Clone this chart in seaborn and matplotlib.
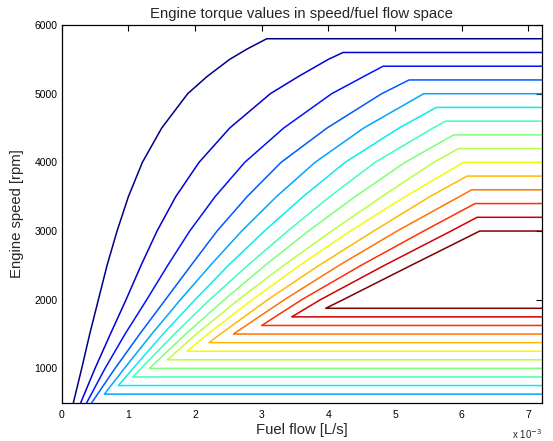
import numpy as np
import pandas as pd
import matplotlib
matplotlib.use("Agg")
import matplotlib.pyplot as plt
import seaborn as sns

# contour lines of engine torque, fuel flow in units of 1e-3 L/s, speed in rpm
FUEL_MAX = 7.2
n_levels = 15
nan = np.nan

# where each contour turns flat at the top (max speed for that torque)
plateau_speed = [5800, 5600, 5400, 5200, 5000, 4800, 4600, 4400, 4200, 4000, 3800, 3600, 3400, 3200, 3000]
plateau_fuel = [3.075, 4.22, 4.82, 5.21, 5.43, 5.62, 5.76, 5.88, 5.95, 6.03, 6.08, 6.15, 6.20, 6.23, 6.27]

# lower corner (first 4 contours only enter the plot at the bottom edge)
low_speed = [500, 500, 500, 500, 625, 750, 875, 1000, 1125, 1250, 1375, 1500, 1625, 1750, 1875]
low_fuel = [0.175, 0.285, 0.375, 0.45, 0.64, 0.85, 1.065, 1.315, 1.585, 1.88, 2.21, 2.575, 3.0, 3.45, 3.96]
has_low_line = [False] * 4 + [True] * 11

# fuel flow of each rising curve at fixed speeds (nan = not on the rising part)
curve_speeds = [1000, 1500, 2000, 2500, 3000, 3500, 4000, 4500, 5000, 5250, 5500, 5650]
fuel_1000 = [0.30, 0.50, 0.65, 0.80, 0.94, 1.07, 1.19, nan, nan, nan, nan, nan, nan, nan, nan]
fuel_1500 = [0.42, 0.73, 0.95, 1.17, 1.35, 1.52, 1.69, 1.86, 2.02, 2.19, 2.38, nan, nan, nan, nan]
fuel_2000 = [0.55, 0.965, 1.275, 1.555, 1.78, 2.00, 2.22, 2.44, 2.65, 2.86, 3.09, 3.34, 3.60, 3.88, 4.22]
fuel_2500 = [0.68, 1.19, 1.59, 1.94, 2.23, 2.50, 2.79, 3.05, 3.33, 3.57, 3.86, 4.16, 4.49, 4.84, 5.24]
fuel_3000 = [0.83, 1.43, 1.92, 2.33, 2.70, 3.04, 3.39, 3.70, 4.05, 4.33, 4.68, 5.03, 5.43, 5.84, nan]
fuel_3500 = [1.00, 1.71, 2.30, 2.78, 3.22, 3.62, 4.02, 4.40, 4.80, 5.15, 5.52, nan, nan, nan, nan]
fuel_4000 = [1.21, 2.06, 2.745, 3.29, 3.80, 4.25, 4.70, 5.15, 5.58, nan, nan, nan, nan, nan, nan]
fuel_4500 = [1.50, 2.52, 3.33, 3.98, 4.53, 5.06, 5.57, nan, nan, nan, nan, nan, nan, nan, nan]
fuel_5000 = [1.89, 3.13, 4.05, 4.80, nan, nan, nan, nan, nan, nan, nan, nan, nan, nan, nan]
fuel_5250 = [2.18, 3.55, 4.53, nan, nan, nan, nan, nan, nan, nan, nan, nan, nan, nan, nan]
fuel_5500 = [2.52, 4.00, nan, nan, nan, nan, nan, nan, nan, nan, nan, nan, nan, nan, nan]
fuel_5650 = [2.78, nan, nan, nan, nan, nan, nan, nan, nan, nan, nan, nan, nan, nan, nan]
curve_fuel = [fuel_1000, fuel_1500, fuel_2000, fuel_2500, fuel_3000, fuel_3500,
              fuel_4000, fuel_4500, fuel_5000, fuel_5250, fuel_5500, fuel_5650]

# build one ordered path per contour
rows = []
for i in range(n_levels):
    pts = []
    if has_low_line[i]:
        pts.append((FUEL_MAX, low_speed[i]))
    pts.append((low_fuel[i], low_speed[i]))
    for s, col in zip(curve_speeds, curve_fuel):
        if not np.isnan(col[i]) and low_speed[i] < s < plateau_speed[i]:
            pts.append((col[i], s))
    pts.append((plateau_fuel[i], plateau_speed[i]))
    pts.append((FUEL_MAX, plateau_speed[i]))
    for k, (f, s) in enumerate(pts):
        rows.append({'level': i, 'order': k, 'fuel': f, 'speed': s})
df = pd.DataFrame(rows)

sns.set_style('white')
plt.rcParams['font.family'] = ['Liberation Sans', 'DejaVu Sans']

fig = plt.figure(figsize=(5.53, 4.41), dpi=100)
ax = fig.add_axes([0.1116, 0.0868, 0.868, 0.8565])

palette = [matplotlib.cm.jet(v) for v in np.linspace(0, 1, n_levels)]
sns.lineplot(data=df, x='fuel', y='speed', hue='level', palette=palette,
             sort=False, estimator=None, legend=False, linewidth=1.1, ax=ax)

ax.set_xlim(0, FUEL_MAX)
ax.set_ylim(500, 6000)
ax.set_xticks(range(0, 8))
ax.set_yticks(range(1000, 7000, 1000))
ax.tick_params(direction='in', length=4, width=0.8, top=True, right=True,
               labelsize=7.5, colors='black', pad=3)
ax.tick_params(axis='x', pad=5.5)
for sp in ax.spines.values():
    sp.set_color('black')
    sp.set_linewidth(0.9)

ax.set_title('Engine torque values in speed/fuel flow space', fontsize=10.7, pad=5)
ax.set_xlabel('Fuel flow [L/s]', fontsize=10.7, labelpad=2)
ax.set_ylabel('Engine speed [rpm]', fontsize=10.7, labelpad=7.5)
ax.text(1.0, -0.096, r'x 10$^{-3}$', transform=ax.transAxes, ha='right', va='baseline', fontsize=7)

fig.savefig('out.png', dpi=100)
plt.close(fig)
